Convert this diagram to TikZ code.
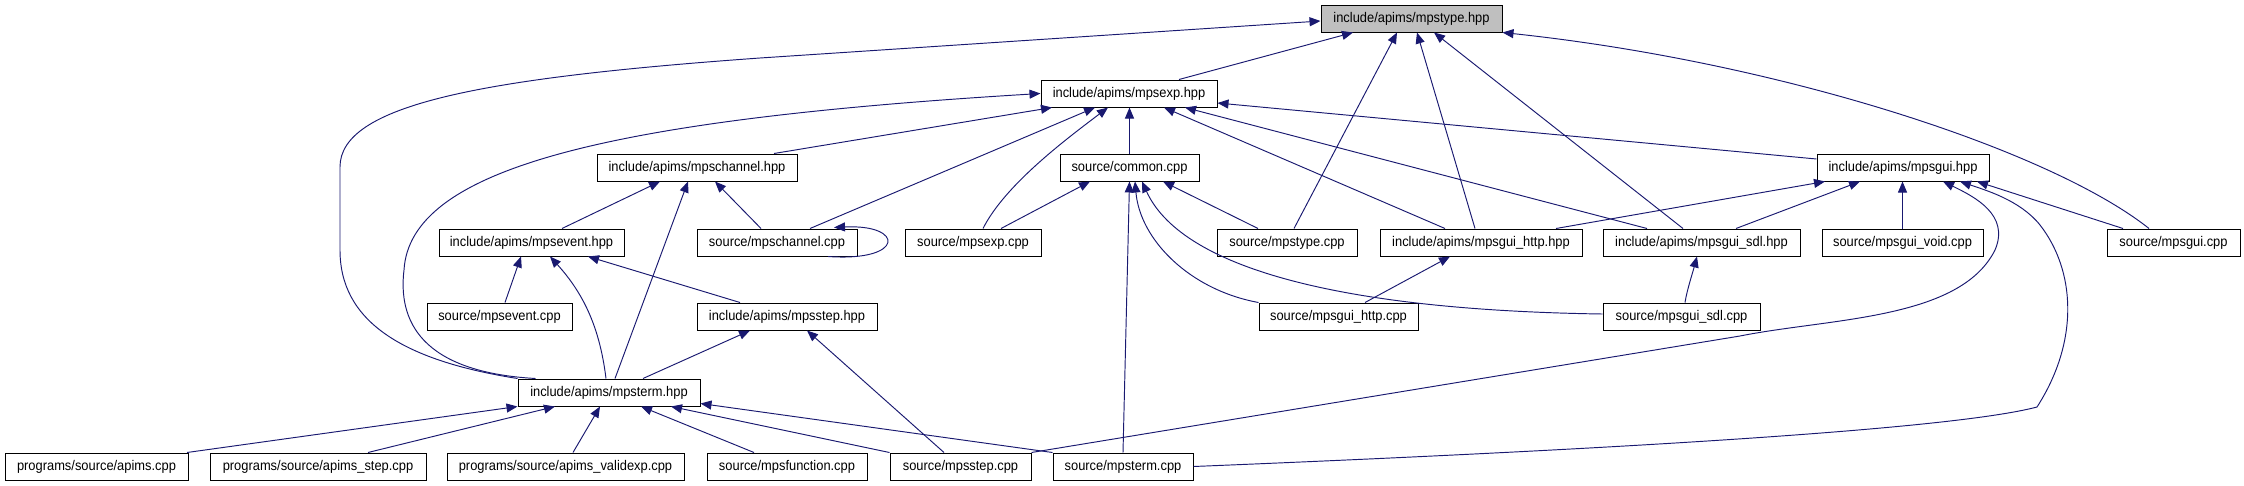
\documentclass[tikz,border=0pt]{standalone}
\usepackage{fontspec}
\setmainfont{Liberation Sans}[FakeStretch=0.92]
\usetikzlibrary{arrows.meta}
\definecolor{edgeblue}{RGB}{25,25,112}
\definecolor{rootgray}{RGB}{191,191,191}
\tikzset{
  file/.style={draw=black,line width=1pt,fill=white,minimum height=27pt,
               inner sep=0pt,font=\fontsize{14}{16}\selectfont},
  root/.style={file,fill=rootgray},
  dep/.style={edgeblue,line width=0.95pt,-{Triangle[length=11pt,width=9pt]}},
}
\begin{document}
\begin{tikzpicture}[x=1pt,y=-1pt]
  \useasboundingbox (0,0) rectangle (2244,485);

  % headers and sources
  \node[root,minimum width=181pt] (typeh) at (1411.5,18.5) {include/apims/mpstype.hpp};
  \node[file,minimum width=176pt] (exph) at (1129,93.5) {include/apims/mpsexp.hpp};

  \node[file,minimum width=200pt] (chanh) at (697,167.5) {include/apims/mpschannel.hpp};
  \node[file,minimum width=139pt] (commonc) at (1129.5,167.5) {source/common.cpp};
  \node[file,minimum width=172pt] (guih) at (1903,167.5) {include/apims/mpsgui.hpp};

  \node[file,minimum width=185pt] (eventh) at (531.5,242.5) {include/apims/mpsevent.hpp};
  \node[file,minimum width=160pt] (chanc) at (777,242.5) {source/mpschannel.cpp};
  \node[file,minimum width=136pt] (expc) at (973,242.5) {source/mpsexp.cpp};
  \node[file,minimum width=140pt] (typec) at (1287,242.5) {source/mpstype.cpp};
  \node[file,minimum width=202pt] (httph) at (1481,242.5) {include/apims/mpsgui\_http.hpp};
  \node[file,minimum width=197pt] (sdlh) at (1701.5,242.5) {include/apims/mpsgui\_sdl.hpp};
  \node[file,minimum width=161pt] (voidc) at (1902.5,242.5) {source/mpsgui\_void.cpp};
  \node[file,minimum width=133pt] (guic) at (2173.5,242.5) {source/mpsgui.cpp};

  \node[file,minimum width=145pt] (eventc) at (499.5,316.5) {source/mpsevent.cpp};
  \node[file,minimum width=180pt] (steph) at (787,316.5) {include/apims/mpsstep.hpp};
  \node[file,minimum width=159pt] (httpc) at (1338.5,316.5) {source/mpsgui\_http.cpp};
  \node[file,minimum width=157pt] (sdlc) at (1681.5,316.5) {source/mpsgui\_sdl.cpp};

  \node[file,minimum width=182pt] (termh) at (609,392.5) {include/apims/mpsterm.hpp};

  \node[file,minimum width=183pt] (apimsc) at (96.5,466.5) {programs/source/apims.cpp};
  \node[file,minimum width=216pt] (apstepc) at (318,466.5) {programs/source/apims\_step.cpp};
  \node[file,minimum width=237pt] (validc) at (565.5,466.5) {programs/source/apims\_validexp.cpp};
  \node[file,minimum width=160pt] (funcc) at (787,466.5) {source/mpsfunction.cpp};
  \node[file,minimum width=141pt] (stepc) at (960.5,466.5) {source/mpsstep.cpp};
  \node[file,minimum width=140pt] (termc) at (1123,466.5) {source/mpsterm.cpp};

  % includes of mpstype.hpp
  \draw[dep] ([xshift=50pt]exph.north) -- ([xshift=-58.5pt]typeh.south);
  \draw[dep] (termh.north west) .. controls (400,360) and (340,320) .. (340,250)
    -- (340,167) .. controls (340,105) and (480,78) .. (760,58)
    -- ([yshift=-2.5pt]typeh.west);
  \draw[dep] ([xshift=7pt]typec.north) -- ([xshift=-14.5pt]typeh.south);
  \draw[dep] ([xshift=-6pt]httph.north) -- ([xshift=5.5pt]typeh.south);
  \draw[dep] ([xshift=-18.5pt]sdlh.north) -- ([xshift=22.5pt]typeh.south);
  \draw[dep] ([xshift=-24.5pt]guic.north) .. controls (2050,150) and (1780,62) .. (typeh.south east);

  % includes of mpsexp.hpp
  \draw[dep] ([xshift=77pt]chanh.north) -- ([xshift=-77pt]exph.south);
  \draw[dep] ([xshift=18pt]termh.north west) .. controls (420,372) and (398,320) .. (404,270)
    .. controls (410,170) and (600,120) .. (exph.west);
  \draw[dep] ([xshift=33pt]chanc.north) -- ([xshift=-34pt]exph.south);
  \draw[dep] ([xshift=10pt]expc.north) .. controls (1005,185) and (1065,140) .. ([xshift=-21pt]exph.south);
  \draw[dep] (commonc.north) -- (exph.south -| commonc.north);
  \draw[dep] ([xshift=-36pt]httph.north) -- ([xshift=35pt]exph.south);
  \draw[dep] ([xshift=-54.5pt]sdlh.north) -- ([xshift=56pt]exph.south);
  \draw[dep] ([yshift=8.5pt]guih.west) -- ([yshift=-9.5pt]exph.east);

  % includes of mpschannel.hpp
  \draw[dep] ([xshift=30.5pt]eventh.north) -- ([xshift=-37pt]chanh.south);
  \draw[dep] ([xshift=6pt]termh.north) -- ([xshift=-9pt]chanh.south);
  \draw[dep] ([xshift=-16pt]chanc.north) -- ([xshift=18pt]chanh.south);
  \draw[dep] ([xshift=51pt]chanc.south) .. controls (905,262) and (905,224) .. ([xshift=57pt,yshift=1pt]chanc.north);

  % includes of common.cpp
  \draw[dep] ([xshift=28pt]expc.north) -- ([xshift=-39.5pt]commonc.south);
  \draw[dep] ([xshift=-29pt]typec.north) -- ([xshift=33.5pt]commonc.south);
  \draw[dep] (termc.north) -- (commonc.south);
  \draw[dep] (httpc.north west) .. controls (1190,290) and (1140,240) .. ([xshift=5.5pt]commonc.south);
  \draw[dep] ([yshift=2.5pt]sdlc.west) .. controls (1330,310) and (1180,265) .. ([xshift=12.5pt]commonc.south);

  % includes of mpsgui.hpp
  \draw[dep] ([xshift=75pt]httph.north) -- ([xshift=-78pt]guih.south);
  \draw[dep] ([xshift=34.5pt]sdlh.north) -- ([xshift=-43pt]guih.south);
  \draw[dep] (voidc.north) -- (guih.south -| voidc.north);
  \draw[dep] ([xshift=-50.5pt]guic.north) -- ([xshift=74pt]guih.south);
  \draw[dep] (stepc.north east) -- (1740,336) .. controls (1830,318) and (1960,320) .. (1995,250)
    .. controls (2010,215) and (1975,197) .. ([xshift=40pt]guih.south);
  \draw[dep] (termc.east) .. controls (1600,450) and (1950,430) .. (2037,407)
    .. controls (2080,340) and (2075,270) .. (2040,225)
    .. controls (2020,200) and (1985,190) .. ([xshift=57pt]guih.south);

  % includes of mpsevent.hpp, mpsgui_http.hpp, mpsgui_sdl.hpp, mpsstep.hpp
  \draw[dep] ([xshift=5.5pt]eventc.north) -- ([xshift=-10.5pt]eventh.south);
  \draw[dep] ([xshift=-3pt]termh.north) .. controls (600,330) and (585,295) .. ([xshift=18.5pt]eventh.south);
  \draw[dep] ([xshift=-47pt]steph.north) -- ([xshift=56.5pt]eventh.south);
  \draw[dep] ([xshift=26.5pt]httpc.north) -- ([xshift=-31pt]httph.south);
  \draw[dep] ([xshift=3.5pt]sdlc.north) .. controls (1687,290) and (1692,275) .. ([xshift=-4.5pt]sdlh.south);
  \draw[dep] ([xshift=34pt]termh.north) -- ([xshift=-37pt]steph.south);
  \draw[dep] ([xshift=-16.5pt]stepc.north) -- ([xshift=20pt]steph.south);

  % includes of mpsterm.hpp
  \draw[dep] ([xshift=90.5pt]apimsc.north) -- (termh.south west);
  \draw[dep] ([xshift=50pt]apstepc.north) -- ([xshift=-54pt]termh.south);
  \draw[dep] ([xshift=7.5pt]validc.north) -- ([xshift=-9pt]termh.south);
  \draw[dep] ([xshift=-33pt]funcc.north) -- ([xshift=32pt]termh.south);
  \draw[dep] (stepc.north west) -- ([xshift=62pt]termh.south);
  \draw[dep] (termc.north west) -- ([yshift=3pt]termh.south east);
\end{tikzpicture}
\end{document}
